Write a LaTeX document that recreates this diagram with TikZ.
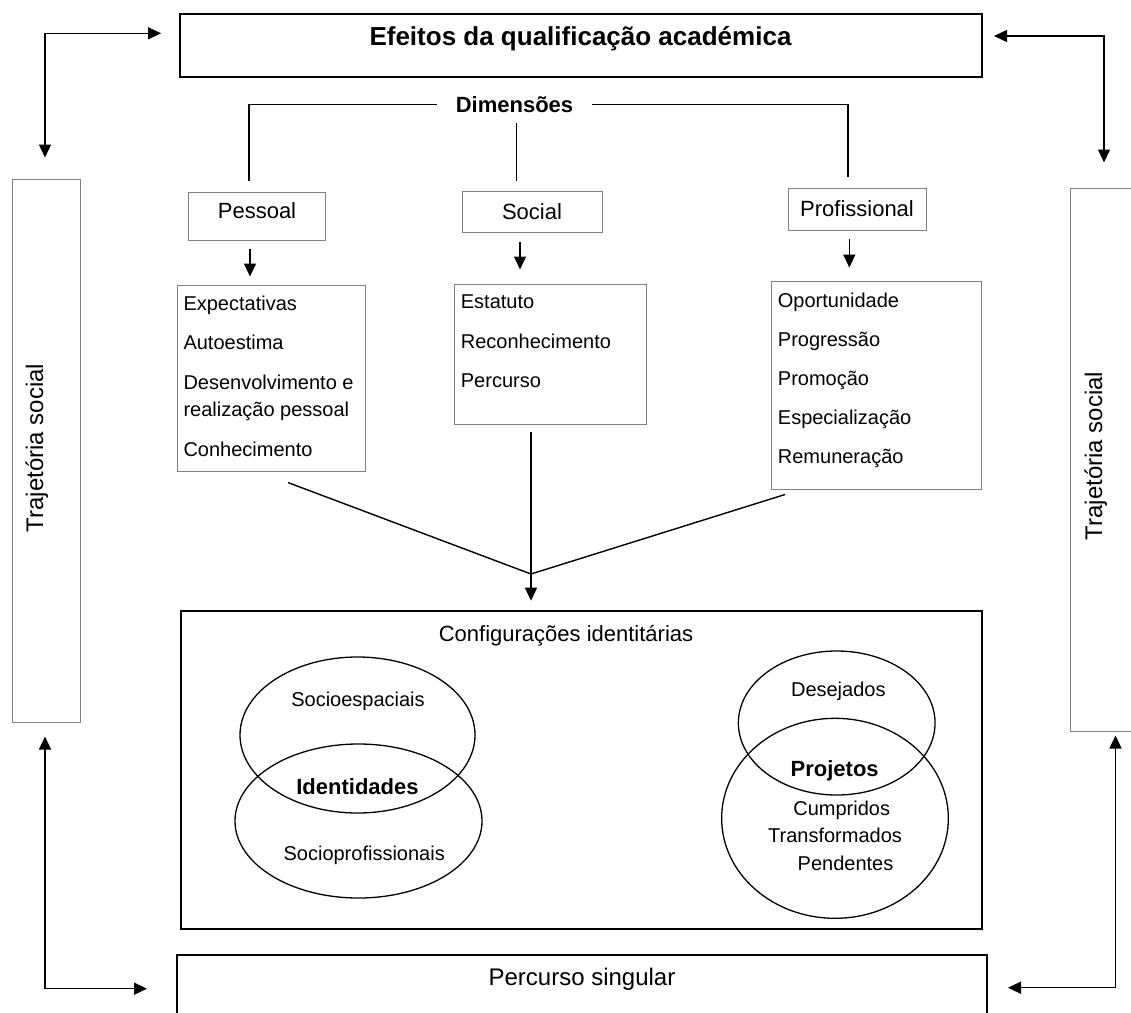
\documentclass[tikz,border=0pt]{standalone}
\usepackage{fontspec}
\setmainfont{Liberation Sans}
\usetikzlibrary{arrows.meta,shapes.geometric}
\begin{document}
\begin{tikzpicture}[x=1pt,y=-1pt,
  bigbox/.style={draw=black, line width=2pt, inner sep=0pt},
  thinbox/.style={draw=gray, line width=1pt, inner sep=0pt},
  hdrbox/.style={draw=gray, line width=1pt, inner sep=0pt, font=\fontsize{22}{26}\selectfont},
  itemtxt/.style={anchor=base west, inner sep=0pt, font=\fontsize{20}{24}\selectfont},
  ctxt/.style={anchor=base, inner sep=0pt, font=\fontsize{20}{24}\selectfont},
  boldtxt/.style={anchor=base, inner sep=0pt, font=\fontsize{22}{26}\selectfont\bfseries},
  tiparrow/.style={-{Triangle[length=13pt,width=12pt]}, line width=1.4pt},
  dblarrow/.style={{Triangle[length=13pt,width=12pt]}-{Triangle[length=13pt,width=12pt]}, line width=1.4pt},
  connline/.style={line width=1.4pt},
  venn/.style={draw, ellipse, line width=1.3pt, inner sep=0pt},
]
\useasboundingbox (0,0) rectangle (1131,1012);
\clip (0,0) rectangle (1131,1012);

% main frames
\node[bigbox, minimum width=802pt, minimum height=63pt] (top) at (581,45.5) {};
\node[anchor=base, inner sep=0pt, font=\fontsize{26}{30}\selectfont\bfseries] (topT) at (580.5,45.5) {Efeitos da qualificação académica};

\node[thinbox, minimum width=68pt, minimum height=543pt] (trajL) at (46,450.5) {};
\node[rotate=90, anchor=base, inner sep=0pt, font=\fontsize{24}{28}\selectfont] (trajLT) at (43,448) {Trajetória social};

\node[thinbox, minimum width=63pt, minimum height=543pt] (trajR) at (1101.5,459.5) {};
\node[rotate=90, anchor=base, inner sep=0pt, font=\fontsize{24}{28}\selectfont] (trajRT) at (1102,456) {Trajetória social};

\node[bigbox, minimum width=810pt, minimum height=70pt] (perc) at (582,990) {};
\node[anchor=base, inner sep=0pt, font=\fontsize{24}{28}\selectfont] (percT) at (582,985) {Percurso singular};

\node[bigbox, minimum width=800.7pt, minimum height=318.3pt] (cfg) at (581.35,769.85) {};
\node[anchor=base, inner sep=0pt, font=\fontsize{22}{26}\selectfont] (cfgT) at (566,641) {Configurações identitárias};

% corner arrows
\draw[dblarrow, shorten <=21pt, shorten >=18pt] ([xshift=-1pt]trajL.north) |- ([yshift=12.2pt]top.west);
\draw[dblarrow, shorten <=25pt, shorten >=11pt] ([xshift=2.5pt]trajR.north) |- ([yshift=9.5pt]top.east);
\draw[dblarrow, shorten <=14pt, shorten >=29pt] ([xshift=-1pt]trajL.south) |- ([yshift=1.3pt]perc.west);
\draw[dblarrow, shorten <=4pt, shorten >=20pt] ([xshift=14pt]trajR.south) |- ([yshift=2.3pt]perc.east);

% dimensions
\node[inner xsep=19pt, inner ysep=2pt, text height=15.8pt, text depth=0pt, font=\fontsize{22}{26}\selectfont\bfseries] (dim) at (514.5,104.5) {Dimensões};

\node[hdrbox, minimum width=137pt, minimum height=48pt, text height=15.8pt, text depth=10pt] (pess) at (257,216) {Pessoal};
\node[hdrbox, minimum width=140pt, minimum height=41pt] (soc) at (532,212) {Social};
\node[hdrbox, minimum width=138pt, minimum height=42pt] (prof) at (857,209) {Profissional};

\draw[connline, shorten >=10.7pt] (dim.west) -| ([xshift=-8pt]pess.north);
\draw[connline, shorten >=10.3pt] (dim.east) -| ([xshift=-9pt]prof.north);
\draw[connline, shorten <=8.6pt, shorten >=9.7pt] ([xshift=2.2pt]dim.south) -- ([xshift=-15.3pt]soc.north);

% lists
\node[thinbox, minimum width=187.7pt, minimum height=186.7pt] (lstP) at (271.2,378.4) {};
\node[thinbox, minimum width=192.7pt, minimum height=140pt] (lstS) at (550.4,354) {};
\node[thinbox, minimum width=210pt, minimum height=207.6pt] (lstR) at (876,385.5) {};

\draw[tiparrow, shorten <=8pt, shorten >=8pt] ([xshift=-7pt]pess.south) -- ([xshift=-21.2pt]lstP.north);
\draw[tiparrow, shorten <=9.4pt, shorten >=14pt] ([xshift=-12pt]soc.south) -- ([xshift=-30.4pt]lstS.north);
\draw[tiparrow, shorten <=8pt, shorten >=13.7pt] ([xshift=-7.7pt]prof.south) -- ([xshift=-26.7pt]lstR.north);

\node[itemtxt] (p1) at (183.3,310) {Expectativas};
\node[itemtxt] (p2) at (183.3,349.5) {Autoestima};
\node[itemtxt] (p3) at (183.3,389) {Desenvolvimento e};
\node[itemtxt] (p4) at (183.3,416.5) {realização pessoal};
\node[itemtxt] (p5) at (183.3,456) {Conhecimento};

\node[itemtxt] (s1) at (460.7,308.5) {Estatuto};
\node[itemtxt] (s2) at (460.7,348) {Reconhecimento};
\node[itemtxt] (s3) at (460.7,387.5) {Percurso};

\node[itemtxt] (r1) at (777.7,307) {Oportunidade};
\node[itemtxt] (r2) at (777.7,346) {Progressão};
\node[itemtxt] (r3) at (777.7,385) {Promoção};
\node[itemtxt] (r4) at (777.7,424) {Especialização};
\node[itemtxt] (r5) at (777.7,463) {Remuneração};

% convergence
\coordinate (join) at (531,574);
\draw[connline] ([xshift=16.8pt,yshift=-10.3pt]lstP.south) -- (join);
\draw[connline] ([xshift=-91pt,yshift=-4.7pt]lstR.south) -- (join);
\draw[tiparrow, shorten <=7.7pt, shorten >=9pt] ([xshift=-19.4pt]lstS.south) -- ([xshift=-50.35pt]cfg.north);

% Venn: identities
\node[venn, minimum width=235pt, minimum height=156pt] (eSE) at (357.5,735) {};
\node[venn, minimum width=247pt, minimum height=154pt] (eSP) at (358.5,821) {};
\node[ctxt] (tSE) at (358,706) {Socioespaciais};
\node[boldtxt] (tID) at (357.5,794) {Identidades};
\node[ctxt] (tSP) at (364.2,860.7) {Socioprofissionais};

% Venn: projects
\node[venn, minimum width=196.7pt, minimum height=144pt] (eD) at (836.7,723) {};
\node[venn, minimum width=226.7pt, minimum height=200pt] (eC) at (835,818.3) {};
\node[ctxt] (tDE) at (838.3,696.7) {Desejados};
\node[boldtxt] (tPR) at (834.7,776) {Projetos};
\node[ctxt] (tCU) at (841.7,815) {Cumpridos};
\node[ctxt] (tTR) at (835,842.7) {Transformados};
\node[ctxt] (tPE) at (845.5,870) {Pendentes};
\end{tikzpicture}
\end{document}
